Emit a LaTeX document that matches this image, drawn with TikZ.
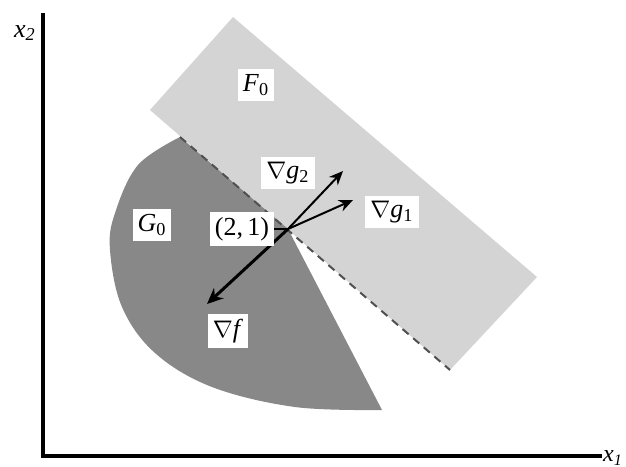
\documentclass[tikz,border=0pt]{standalone}
\usepackage{fontspec}
\setmainfont{Liberation Serif}
\usetikzlibrary{arrows.meta}
\definecolor{lightreg}{RGB}{212,212,212}
\definecolor{darkreg}{RGB}{136,136,136}
\definecolor{dashcol}{RGB}{80,80,80}
\tikzset{
  lbl/.style={fill=white, inner sep=2.5pt, font=\fontsize{13}{15}\selectfont},
  axis/.style={line width=2pt, black},
  grad/.style={line width=1pt, -{Stealth[length=7pt,width=6pt]}},
  gradf/.style={line width=1.5pt, -{Stealth[length=8pt,width=7pt]}},
  edge/.style={dashed, dash pattern=on 4pt off 3pt, line width=1pt, dashcol}
}
\begin{document}
\begin{tikzpicture}[x=0.5pt,y=-0.5pt]
\useasboundingbox (0,0) rectangle (626,466);
% regions
\coordinate (Ftop) at (233,17);
\coordinate (Fleft) at (150,110);
\coordinate (Fbot) at (450,370);
\coordinate (Fright) at (537,277);
\coordinate (P) at (288,229);
\coordinate (Gtop) at (180,137);
\coordinate (Gtip) at (382,410);
\fill[lightreg] (Ftop) -- (Fleft) -- (Fbot) -- (Fright) -- cycle;
\fill[darkreg] 
  plot[smooth, tension=0.6] coordinates {(180,137) (138,165) (115,213) (110,250) (122,307) (155,353) (212,387) (295,407) (382,410)}
  -- (P) -- cycle;
\draw[edge] (Gtop) -- (Fbot);
% axes
\coordinate (O) at (43,456);
\coordinate (Ytop) at (43,13);
\coordinate (Xend) at (602,456);
\draw[axis] (Ytop) -- (O) -- (Xend);
\node[font=\fontsize{13}{15}\selectfont\itshape] (x2) at (25,33) {x\textsubscript{2}};
\node[font=\fontsize{12}{14}\selectfont\itshape] (x1) at (613,458) {x\textsubscript{1}};
% gradient arrows
\coordinate (g2end) at (343,171);
\coordinate (g1end) at (353,200);
\coordinate (fend) at (207,304);
\draw[grad] (P) -- (g2end);
\draw[grad] (P) -- (g1end);
\draw[gradf] (P) -- (fend);
% labels
\node[lbl] (F0) at (256,85) {\textit{F}\textsubscript{0}};
\node[lbl] (G0) at (152,225) {\textit{G}\textsubscript{0}};
\node[lbl] (pt) at (242,229) {(2,\,1)};
\node[lbl] (ng2) at (288,173) {$\nabla$\textit{g}\textsubscript{2}};
\node[lbl] (ng1) at (392,212) {$\nabla$\textit{g}\textsubscript{1}};
\node[lbl] (nf) at (228,331) {$\nabla$\textit{f}};
\draw[line width=0.6pt] (pt.east) -- (P);
\end{tikzpicture}
\end{document}
